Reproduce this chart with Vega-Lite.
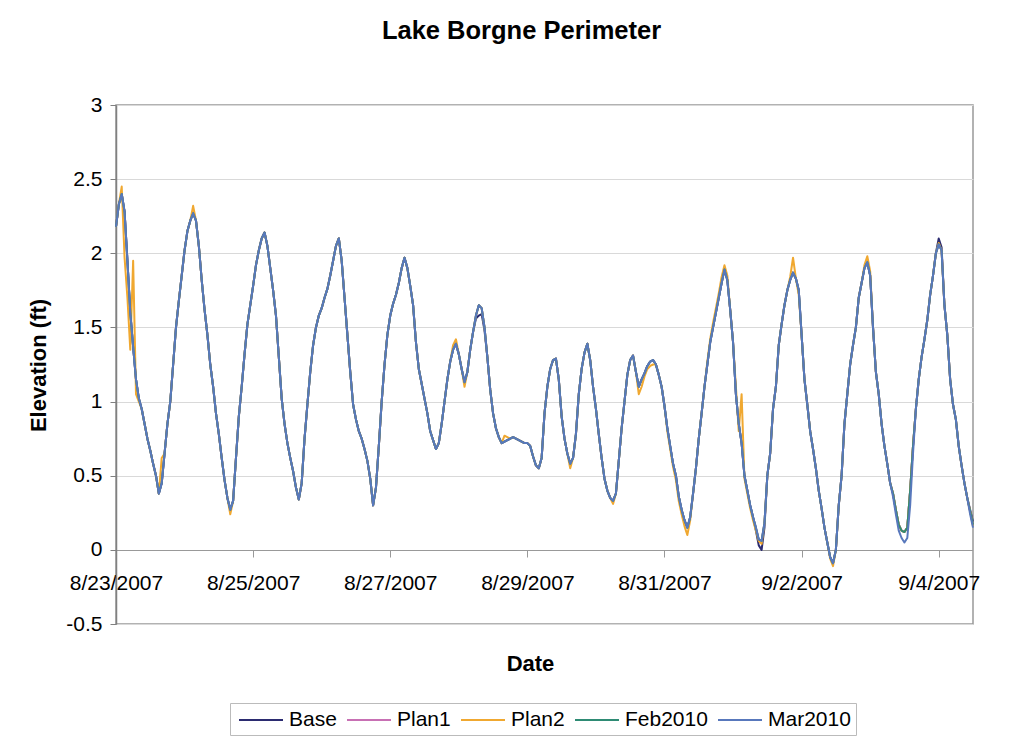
{
"$schema":"https://vega.github.io/schema/vega-lite/v6.json",
"width":857,"height":519,
"autosize":{"type":"none"},
"padding":{"left":116,"top":105,"right":58,"bottom":120},
"background":"white",
"title":{"text":"Lake Borgne Perimeter","font":"Liberation Sans","fontSize":25.5,"fontWeight":"bold","color":"black","anchor":"middle","frame":"group","dx":-23,"offset":50},
"data":{"values":[
{"t":"2007-08-23T00:00","Base":2.18,"Plan1":2.18,"Plan2":2.18,"Feb2010":2.18,"Mar2010":2.18},
{"t":"2007-08-23T01:00","Base":2.33,"Plan1":2.33,"Plan2":2.33,"Feb2010":2.33,"Mar2010":2.33},
{"t":"2007-08-23T02:00","Base":2.40,"Plan1":2.40,"Plan2":2.45,"Feb2010":2.40,"Mar2010":2.40},
{"t":"2007-08-23T03:00","Base":2.28,"Plan1":2.28,"Plan2":1.97,"Feb2010":2.28,"Mar2010":2.28},
{"t":"2007-08-23T04:00","Base":1.95,"Plan1":1.95,"Plan2":1.70,"Feb2010":1.95,"Mar2010":1.95},
{"t":"2007-08-23T05:00","Base":1.60,"Plan1":1.60,"Plan2":1.35,"Feb2010":1.60,"Mar2010":1.60},
{"t":"2007-08-23T06:00","Base":1.37,"Plan1":1.37,"Plan2":1.95,"Feb2010":1.37,"Mar2010":1.37},
{"t":"2007-08-23T07:00","Base":1.15,"Plan1":1.15,"Plan2":1.05,"Feb2010":1.15,"Mar2010":1.15},
{"t":"2007-08-23T08:00","Base":1.02,"Plan1":1.02,"Plan2":1.00,"Feb2010":1.02,"Mar2010":1.02},
{"t":"2007-08-23T09:00","Base":0.95,"Plan1":0.95,"Plan2":0.95,"Feb2010":0.95,"Mar2010":0.95},
{"t":"2007-08-23T10:00","Base":0.85,"Plan1":0.85,"Plan2":0.85,"Feb2010":0.85,"Mar2010":0.85},
{"t":"2007-08-23T11:00","Base":0.75,"Plan1":0.75,"Plan2":0.75,"Feb2010":0.75,"Mar2010":0.75},
{"t":"2007-08-23T12:00","Base":0.67,"Plan1":0.67,"Plan2":0.67,"Feb2010":0.67,"Mar2010":0.67},
{"t":"2007-08-23T13:00","Base":0.58,"Plan1":0.58,"Plan2":0.58,"Feb2010":0.58,"Mar2010":0.58},
{"t":"2007-08-23T14:00","Base":0.50,"Plan1":0.50,"Plan2":0.50,"Feb2010":0.50,"Mar2010":0.50},
{"t":"2007-08-23T15:00","Base":0.38,"Plan1":0.38,"Plan2":0.38,"Feb2010":0.38,"Mar2010":0.38},
{"t":"2007-08-23T16:00","Base":0.45,"Plan1":0.45,"Plan2":0.62,"Feb2010":0.45,"Mar2010":0.45},
{"t":"2007-08-23T17:00","Base":0.65,"Plan1":0.65,"Plan2":0.65,"Feb2010":0.65,"Mar2010":0.65},
{"t":"2007-08-23T18:00","Base":0.85,"Plan1":0.85,"Plan2":0.85,"Feb2010":0.85,"Mar2010":0.85},
{"t":"2007-08-23T19:00","Base":1.00,"Plan1":1.00,"Plan2":1.00,"Feb2010":1.00,"Mar2010":1.00},
{"t":"2007-08-23T20:00","Base":1.25,"Plan1":1.25,"Plan2":1.25,"Feb2010":1.25,"Mar2010":1.25},
{"t":"2007-08-23T21:00","Base":1.50,"Plan1":1.50,"Plan2":1.50,"Feb2010":1.50,"Mar2010":1.50},
{"t":"2007-08-23T22:00","Base":1.68,"Plan1":1.68,"Plan2":1.68,"Feb2010":1.68,"Mar2010":1.68},
{"t":"2007-08-23T23:00","Base":1.85,"Plan1":1.85,"Plan2":1.85,"Feb2010":1.85,"Mar2010":1.85},
{"t":"2007-08-24T00:00","Base":2.02,"Plan1":2.02,"Plan2":2.02,"Feb2010":2.02,"Mar2010":2.02},
{"t":"2007-08-24T01:00","Base":2.15,"Plan1":2.15,"Plan2":2.15,"Feb2010":2.15,"Mar2010":2.15},
{"t":"2007-08-24T02:00","Base":2.22,"Plan1":2.22,"Plan2":2.22,"Feb2010":2.22,"Mar2010":2.22},
{"t":"2007-08-24T03:00","Base":2.27,"Plan1":2.27,"Plan2":2.32,"Feb2010":2.27,"Mar2010":2.27},
{"t":"2007-08-24T04:00","Base":2.22,"Plan1":2.22,"Plan2":2.22,"Feb2010":2.22,"Mar2010":2.22},
{"t":"2007-08-24T05:00","Base":2.05,"Plan1":2.05,"Plan2":2.05,"Feb2010":2.05,"Mar2010":2.05},
{"t":"2007-08-24T06:00","Base":1.82,"Plan1":1.82,"Plan2":1.82,"Feb2010":1.82,"Mar2010":1.82},
{"t":"2007-08-24T07:00","Base":1.62,"Plan1":1.62,"Plan2":1.62,"Feb2010":1.62,"Mar2010":1.62},
{"t":"2007-08-24T08:00","Base":1.45,"Plan1":1.45,"Plan2":1.45,"Feb2010":1.45,"Mar2010":1.45},
{"t":"2007-08-24T09:00","Base":1.25,"Plan1":1.25,"Plan2":1.25,"Feb2010":1.25,"Mar2010":1.25},
{"t":"2007-08-24T10:00","Base":1.10,"Plan1":1.10,"Plan2":1.10,"Feb2010":1.10,"Mar2010":1.10},
{"t":"2007-08-24T11:00","Base":0.92,"Plan1":0.92,"Plan2":0.92,"Feb2010":0.92,"Mar2010":0.92},
{"t":"2007-08-24T12:00","Base":0.78,"Plan1":0.78,"Plan2":0.78,"Feb2010":0.78,"Mar2010":0.78},
{"t":"2007-08-24T13:00","Base":0.62,"Plan1":0.62,"Plan2":0.62,"Feb2010":0.62,"Mar2010":0.62},
{"t":"2007-08-24T14:00","Base":0.47,"Plan1":0.47,"Plan2":0.47,"Feb2010":0.47,"Mar2010":0.47},
{"t":"2007-08-24T15:00","Base":0.35,"Plan1":0.35,"Plan2":0.35,"Feb2010":0.35,"Mar2010":0.35},
{"t":"2007-08-24T16:00","Base":0.27,"Plan1":0.27,"Plan2":0.24,"Feb2010":0.27,"Mar2010":0.27},
{"t":"2007-08-24T17:00","Base":0.33,"Plan1":0.33,"Plan2":0.33,"Feb2010":0.33,"Mar2010":0.33},
{"t":"2007-08-24T18:00","Base":0.62,"Plan1":0.62,"Plan2":0.62,"Feb2010":0.62,"Mar2010":0.62},
{"t":"2007-08-24T19:00","Base":0.90,"Plan1":0.90,"Plan2":0.90,"Feb2010":0.90,"Mar2010":0.90},
{"t":"2007-08-24T20:00","Base":1.10,"Plan1":1.10,"Plan2":1.10,"Feb2010":1.10,"Mar2010":1.10},
{"t":"2007-08-24T21:00","Base":1.32,"Plan1":1.32,"Plan2":1.32,"Feb2010":1.32,"Mar2010":1.32},
{"t":"2007-08-24T22:00","Base":1.52,"Plan1":1.52,"Plan2":1.52,"Feb2010":1.52,"Mar2010":1.52},
{"t":"2007-08-24T23:00","Base":1.65,"Plan1":1.65,"Plan2":1.65,"Feb2010":1.65,"Mar2010":1.65},
{"t":"2007-08-25T00:00","Base":1.78,"Plan1":1.78,"Plan2":1.78,"Feb2010":1.78,"Mar2010":1.78},
{"t":"2007-08-25T01:00","Base":1.92,"Plan1":1.92,"Plan2":1.92,"Feb2010":1.92,"Mar2010":1.92},
{"t":"2007-08-25T02:00","Base":2.02,"Plan1":2.02,"Plan2":2.02,"Feb2010":2.02,"Mar2010":2.02},
{"t":"2007-08-25T03:00","Base":2.10,"Plan1":2.10,"Plan2":2.10,"Feb2010":2.10,"Mar2010":2.10},
{"t":"2007-08-25T04:00","Base":2.14,"Plan1":2.14,"Plan2":2.14,"Feb2010":2.14,"Mar2010":2.14},
{"t":"2007-08-25T05:00","Base":2.05,"Plan1":2.05,"Plan2":2.05,"Feb2010":2.05,"Mar2010":2.05},
{"t":"2007-08-25T06:00","Base":1.90,"Plan1":1.90,"Plan2":1.90,"Feb2010":1.90,"Mar2010":1.90},
{"t":"2007-08-25T07:00","Base":1.75,"Plan1":1.75,"Plan2":1.75,"Feb2010":1.75,"Mar2010":1.75},
{"t":"2007-08-25T08:00","Base":1.58,"Plan1":1.58,"Plan2":1.58,"Feb2010":1.58,"Mar2010":1.58},
{"t":"2007-08-25T09:00","Base":1.30,"Plan1":1.30,"Plan2":1.30,"Feb2010":1.30,"Mar2010":1.30},
{"t":"2007-08-25T10:00","Base":1.02,"Plan1":1.02,"Plan2":1.02,"Feb2010":1.02,"Mar2010":1.02},
{"t":"2007-08-25T11:00","Base":0.85,"Plan1":0.85,"Plan2":0.85,"Feb2010":0.85,"Mar2010":0.85},
{"t":"2007-08-25T12:00","Base":0.72,"Plan1":0.72,"Plan2":0.72,"Feb2010":0.72,"Mar2010":0.72},
{"t":"2007-08-25T13:00","Base":0.62,"Plan1":0.62,"Plan2":0.62,"Feb2010":0.62,"Mar2010":0.62},
{"t":"2007-08-25T14:00","Base":0.53,"Plan1":0.53,"Plan2":0.53,"Feb2010":0.53,"Mar2010":0.53},
{"t":"2007-08-25T15:00","Base":0.42,"Plan1":0.42,"Plan2":0.42,"Feb2010":0.42,"Mar2010":0.42},
{"t":"2007-08-25T16:00","Base":0.34,"Plan1":0.34,"Plan2":0.34,"Feb2010":0.34,"Mar2010":0.34},
{"t":"2007-08-25T17:00","Base":0.45,"Plan1":0.45,"Plan2":0.45,"Feb2010":0.45,"Mar2010":0.45},
{"t":"2007-08-25T18:00","Base":0.75,"Plan1":0.75,"Plan2":0.75,"Feb2010":0.75,"Mar2010":0.75},
{"t":"2007-08-25T19:00","Base":0.98,"Plan1":0.98,"Plan2":0.98,"Feb2010":0.98,"Mar2010":0.98},
{"t":"2007-08-25T20:00","Base":1.20,"Plan1":1.20,"Plan2":1.20,"Feb2010":1.20,"Mar2010":1.20},
{"t":"2007-08-25T21:00","Base":1.38,"Plan1":1.38,"Plan2":1.38,"Feb2010":1.38,"Mar2010":1.38},
{"t":"2007-08-25T22:00","Base":1.50,"Plan1":1.50,"Plan2":1.50,"Feb2010":1.50,"Mar2010":1.50},
{"t":"2007-08-25T23:00","Base":1.58,"Plan1":1.58,"Plan2":1.58,"Feb2010":1.58,"Mar2010":1.58},
{"t":"2007-08-26T00:00","Base":1.63,"Plan1":1.63,"Plan2":1.63,"Feb2010":1.63,"Mar2010":1.63},
{"t":"2007-08-26T01:00","Base":1.70,"Plan1":1.70,"Plan2":1.70,"Feb2010":1.70,"Mar2010":1.70},
{"t":"2007-08-26T02:00","Base":1.76,"Plan1":1.76,"Plan2":1.76,"Feb2010":1.76,"Mar2010":1.76},
{"t":"2007-08-26T03:00","Base":1.85,"Plan1":1.85,"Plan2":1.85,"Feb2010":1.85,"Mar2010":1.85},
{"t":"2007-08-26T04:00","Base":1.95,"Plan1":1.95,"Plan2":1.95,"Feb2010":1.95,"Mar2010":1.95},
{"t":"2007-08-26T05:00","Base":2.05,"Plan1":2.05,"Plan2":2.05,"Feb2010":2.05,"Mar2010":2.05},
{"t":"2007-08-26T06:00","Base":2.10,"Plan1":2.10,"Plan2":2.10,"Feb2010":2.10,"Mar2010":2.10},
{"t":"2007-08-26T07:00","Base":1.95,"Plan1":1.95,"Plan2":1.95,"Feb2010":1.95,"Mar2010":1.95},
{"t":"2007-08-26T08:00","Base":1.70,"Plan1":1.70,"Plan2":1.70,"Feb2010":1.70,"Mar2010":1.70},
{"t":"2007-08-26T09:00","Base":1.45,"Plan1":1.45,"Plan2":1.45,"Feb2010":1.45,"Mar2010":1.45},
{"t":"2007-08-26T10:00","Base":1.20,"Plan1":1.20,"Plan2":1.20,"Feb2010":1.20,"Mar2010":1.20},
{"t":"2007-08-26T11:00","Base":0.98,"Plan1":0.98,"Plan2":0.98,"Feb2010":0.98,"Mar2010":0.98},
{"t":"2007-08-26T12:00","Base":0.88,"Plan1":0.88,"Plan2":0.88,"Feb2010":0.88,"Mar2010":0.88},
{"t":"2007-08-26T13:00","Base":0.80,"Plan1":0.80,"Plan2":0.80,"Feb2010":0.80,"Mar2010":0.80},
{"t":"2007-08-26T14:00","Base":0.75,"Plan1":0.75,"Plan2":0.75,"Feb2010":0.75,"Mar2010":0.75},
{"t":"2007-08-26T15:00","Base":0.68,"Plan1":0.68,"Plan2":0.68,"Feb2010":0.68,"Mar2010":0.68},
{"t":"2007-08-26T16:00","Base":0.60,"Plan1":0.60,"Plan2":0.60,"Feb2010":0.60,"Mar2010":0.60},
{"t":"2007-08-26T17:00","Base":0.48,"Plan1":0.48,"Plan2":0.48,"Feb2010":0.48,"Mar2010":0.48},
{"t":"2007-08-26T18:00","Base":0.30,"Plan1":0.30,"Plan2":0.30,"Feb2010":0.30,"Mar2010":0.30},
{"t":"2007-08-26T19:00","Base":0.42,"Plan1":0.42,"Plan2":0.42,"Feb2010":0.42,"Mar2010":0.42},
{"t":"2007-08-26T20:00","Base":0.70,"Plan1":0.70,"Plan2":0.70,"Feb2010":0.70,"Mar2010":0.70},
{"t":"2007-08-26T21:00","Base":1.00,"Plan1":1.00,"Plan2":1.00,"Feb2010":1.00,"Mar2010":1.00},
{"t":"2007-08-26T22:00","Base":1.25,"Plan1":1.25,"Plan2":1.25,"Feb2010":1.25,"Mar2010":1.25},
{"t":"2007-08-26T23:00","Base":1.45,"Plan1":1.45,"Plan2":1.45,"Feb2010":1.45,"Mar2010":1.45},
{"t":"2007-08-27T00:00","Base":1.58,"Plan1":1.58,"Plan2":1.58,"Feb2010":1.58,"Mar2010":1.58},
{"t":"2007-08-27T01:00","Base":1.66,"Plan1":1.66,"Plan2":1.66,"Feb2010":1.66,"Mar2010":1.66},
{"t":"2007-08-27T02:00","Base":1.72,"Plan1":1.72,"Plan2":1.72,"Feb2010":1.72,"Mar2010":1.72},
{"t":"2007-08-27T03:00","Base":1.80,"Plan1":1.80,"Plan2":1.80,"Feb2010":1.80,"Mar2010":1.80},
{"t":"2007-08-27T04:00","Base":1.90,"Plan1":1.90,"Plan2":1.90,"Feb2010":1.90,"Mar2010":1.90},
{"t":"2007-08-27T05:00","Base":1.97,"Plan1":1.97,"Plan2":1.97,"Feb2010":1.97,"Mar2010":1.97},
{"t":"2007-08-27T06:00","Base":1.90,"Plan1":1.90,"Plan2":1.90,"Feb2010":1.90,"Mar2010":1.90},
{"t":"2007-08-27T07:00","Base":1.78,"Plan1":1.78,"Plan2":1.78,"Feb2010":1.78,"Mar2010":1.78},
{"t":"2007-08-27T08:00","Base":1.65,"Plan1":1.65,"Plan2":1.65,"Feb2010":1.65,"Mar2010":1.65},
{"t":"2007-08-27T09:00","Base":1.40,"Plan1":1.40,"Plan2":1.40,"Feb2010":1.40,"Mar2010":1.40},
{"t":"2007-08-27T10:00","Base":1.22,"Plan1":1.22,"Plan2":1.22,"Feb2010":1.22,"Mar2010":1.22},
{"t":"2007-08-27T11:00","Base":1.12,"Plan1":1.12,"Plan2":1.12,"Feb2010":1.12,"Mar2010":1.12},
{"t":"2007-08-27T12:00","Base":1.02,"Plan1":1.02,"Plan2":1.02,"Feb2010":1.02,"Mar2010":1.02},
{"t":"2007-08-27T13:00","Base":0.92,"Plan1":0.92,"Plan2":0.92,"Feb2010":0.92,"Mar2010":0.92},
{"t":"2007-08-27T14:00","Base":0.80,"Plan1":0.80,"Plan2":0.80,"Feb2010":0.80,"Mar2010":0.80},
{"t":"2007-08-27T15:00","Base":0.74,"Plan1":0.74,"Plan2":0.74,"Feb2010":0.74,"Mar2010":0.74},
{"t":"2007-08-27T16:00","Base":0.68,"Plan1":0.68,"Plan2":0.68,"Feb2010":0.68,"Mar2010":0.68},
{"t":"2007-08-27T17:00","Base":0.72,"Plan1":0.72,"Plan2":0.72,"Feb2010":0.72,"Mar2010":0.72},
{"t":"2007-08-27T18:00","Base":0.85,"Plan1":0.85,"Plan2":0.85,"Feb2010":0.85,"Mar2010":0.85},
{"t":"2007-08-27T19:00","Base":1.00,"Plan1":1.00,"Plan2":1.00,"Feb2010":1.00,"Mar2010":1.00},
{"t":"2007-08-27T20:00","Base":1.15,"Plan1":1.15,"Plan2":1.15,"Feb2010":1.15,"Mar2010":1.15},
{"t":"2007-08-27T21:00","Base":1.27,"Plan1":1.27,"Plan2":1.27,"Feb2010":1.27,"Mar2010":1.27},
{"t":"2007-08-27T22:00","Base":1.35,"Plan1":1.35,"Plan2":1.38,"Feb2010":1.35,"Mar2010":1.35},
{"t":"2007-08-27T23:00","Base":1.39,"Plan1":1.39,"Plan2":1.42,"Feb2010":1.39,"Mar2010":1.39},
{"t":"2007-08-28T00:00","Base":1.32,"Plan1":1.32,"Plan2":1.32,"Feb2010":1.32,"Mar2010":1.32},
{"t":"2007-08-28T01:00","Base":1.22,"Plan1":1.22,"Plan2":1.22,"Feb2010":1.22,"Mar2010":1.22},
{"t":"2007-08-28T02:00","Base":1.13,"Plan1":1.13,"Plan2":1.10,"Feb2010":1.13,"Mar2010":1.13},
{"t":"2007-08-28T03:00","Base":1.20,"Plan1":1.20,"Plan2":1.20,"Feb2010":1.20,"Mar2010":1.20},
{"t":"2007-08-28T04:00","Base":1.35,"Plan1":1.35,"Plan2":1.35,"Feb2010":1.35,"Mar2010":1.35},
{"t":"2007-08-28T05:00","Base":1.47,"Plan1":1.47,"Plan2":1.47,"Feb2010":1.47,"Mar2010":1.47},
{"t":"2007-08-28T06:00","Base":1.56,"Plan1":1.58,"Plan2":1.58,"Feb2010":1.58,"Mar2010":1.58},
{"t":"2007-08-28T07:00","Base":1.58,"Plan1":1.65,"Plan2":1.65,"Feb2010":1.65,"Mar2010":1.65},
{"t":"2007-08-28T08:00","Base":1.59,"Plan1":1.63,"Plan2":1.63,"Feb2010":1.63,"Mar2010":1.63},
{"t":"2007-08-28T09:00","Base":1.48,"Plan1":1.50,"Plan2":1.50,"Feb2010":1.50,"Mar2010":1.50},
{"t":"2007-08-28T10:00","Base":1.30,"Plan1":1.30,"Plan2":1.30,"Feb2010":1.30,"Mar2010":1.30},
{"t":"2007-08-28T11:00","Base":1.08,"Plan1":1.08,"Plan2":1.08,"Feb2010":1.08,"Mar2010":1.08},
{"t":"2007-08-28T12:00","Base":0.92,"Plan1":0.92,"Plan2":0.92,"Feb2010":0.92,"Mar2010":0.92},
{"t":"2007-08-28T13:00","Base":0.82,"Plan1":0.82,"Plan2":0.82,"Feb2010":0.82,"Mar2010":0.82},
{"t":"2007-08-28T14:00","Base":0.76,"Plan1":0.76,"Plan2":0.76,"Feb2010":0.76,"Mar2010":0.76},
{"t":"2007-08-28T15:00","Base":0.72,"Plan1":0.72,"Plan2":0.72,"Feb2010":0.72,"Mar2010":0.72},
{"t":"2007-08-28T16:00","Base":0.73,"Plan1":0.73,"Plan2":0.77,"Feb2010":0.73,"Mar2010":0.73},
{"t":"2007-08-28T17:00","Base":0.74,"Plan1":0.74,"Plan2":0.76,"Feb2010":0.74,"Mar2010":0.74},
{"t":"2007-08-28T18:00","Base":0.75,"Plan1":0.75,"Plan2":0.75,"Feb2010":0.75,"Mar2010":0.75},
{"t":"2007-08-28T19:00","Base":0.76,"Plan1":0.76,"Plan2":0.76,"Feb2010":0.76,"Mar2010":0.76},
{"t":"2007-08-28T20:00","Base":0.75,"Plan1":0.75,"Plan2":0.75,"Feb2010":0.75,"Mar2010":0.75},
{"t":"2007-08-28T21:00","Base":0.74,"Plan1":0.74,"Plan2":0.74,"Feb2010":0.74,"Mar2010":0.74},
{"t":"2007-08-28T22:00","Base":0.73,"Plan1":0.73,"Plan2":0.73,"Feb2010":0.73,"Mar2010":0.73},
{"t":"2007-08-28T23:00","Base":0.72,"Plan1":0.72,"Plan2":0.72,"Feb2010":0.72,"Mar2010":0.72},
{"t":"2007-08-29T00:00","Base":0.72,"Plan1":0.72,"Plan2":0.72,"Feb2010":0.72,"Mar2010":0.72},
{"t":"2007-08-29T01:00","Base":0.70,"Plan1":0.70,"Plan2":0.70,"Feb2010":0.70,"Mar2010":0.70},
{"t":"2007-08-29T02:00","Base":0.63,"Plan1":0.63,"Plan2":0.63,"Feb2010":0.63,"Mar2010":0.63},
{"t":"2007-08-29T03:00","Base":0.57,"Plan1":0.57,"Plan2":0.57,"Feb2010":0.57,"Mar2010":0.57},
{"t":"2007-08-29T04:00","Base":0.55,"Plan1":0.55,"Plan2":0.55,"Feb2010":0.55,"Mar2010":0.55},
{"t":"2007-08-29T05:00","Base":0.62,"Plan1":0.62,"Plan2":0.62,"Feb2010":0.62,"Mar2010":0.62},
{"t":"2007-08-29T06:00","Base":0.92,"Plan1":0.92,"Plan2":0.92,"Feb2010":0.92,"Mar2010":0.92},
{"t":"2007-08-29T07:00","Base":1.10,"Plan1":1.10,"Plan2":1.10,"Feb2010":1.10,"Mar2010":1.10},
{"t":"2007-08-29T08:00","Base":1.22,"Plan1":1.22,"Plan2":1.22,"Feb2010":1.22,"Mar2010":1.22},
{"t":"2007-08-29T09:00","Base":1.28,"Plan1":1.28,"Plan2":1.28,"Feb2010":1.28,"Mar2010":1.28},
{"t":"2007-08-29T10:00","Base":1.29,"Plan1":1.29,"Plan2":1.29,"Feb2010":1.29,"Mar2010":1.29},
{"t":"2007-08-29T11:00","Base":1.15,"Plan1":1.15,"Plan2":1.15,"Feb2010":1.15,"Mar2010":1.15},
{"t":"2007-08-29T12:00","Base":0.90,"Plan1":0.90,"Plan2":0.90,"Feb2010":0.90,"Mar2010":0.90},
{"t":"2007-08-29T13:00","Base":0.75,"Plan1":0.75,"Plan2":0.75,"Feb2010":0.75,"Mar2010":0.75},
{"t":"2007-08-29T14:00","Base":0.65,"Plan1":0.65,"Plan2":0.65,"Feb2010":0.65,"Mar2010":0.65},
{"t":"2007-08-29T15:00","Base":0.58,"Plan1":0.58,"Plan2":0.55,"Feb2010":0.58,"Mar2010":0.58},
{"t":"2007-08-29T16:00","Base":0.62,"Plan1":0.62,"Plan2":0.62,"Feb2010":0.62,"Mar2010":0.62},
{"t":"2007-08-29T17:00","Base":0.78,"Plan1":0.78,"Plan2":0.78,"Feb2010":0.78,"Mar2010":0.78},
{"t":"2007-08-29T18:00","Base":1.05,"Plan1":1.05,"Plan2":1.05,"Feb2010":1.05,"Mar2010":1.05},
{"t":"2007-08-29T19:00","Base":1.22,"Plan1":1.22,"Plan2":1.22,"Feb2010":1.22,"Mar2010":1.22},
{"t":"2007-08-29T20:00","Base":1.33,"Plan1":1.33,"Plan2":1.33,"Feb2010":1.33,"Mar2010":1.33},
{"t":"2007-08-29T21:00","Base":1.39,"Plan1":1.39,"Plan2":1.39,"Feb2010":1.39,"Mar2010":1.39},
{"t":"2007-08-29T22:00","Base":1.28,"Plan1":1.28,"Plan2":1.28,"Feb2010":1.28,"Mar2010":1.28},
{"t":"2007-08-29T23:00","Base":1.10,"Plan1":1.10,"Plan2":1.10,"Feb2010":1.10,"Mar2010":1.10},
{"t":"2007-08-30T00:00","Base":0.95,"Plan1":0.95,"Plan2":0.95,"Feb2010":0.95,"Mar2010":0.95},
{"t":"2007-08-30T01:00","Base":0.78,"Plan1":0.78,"Plan2":0.78,"Feb2010":0.78,"Mar2010":0.78},
{"t":"2007-08-30T02:00","Base":0.62,"Plan1":0.62,"Plan2":0.62,"Feb2010":0.62,"Mar2010":0.62},
{"t":"2007-08-30T03:00","Base":0.48,"Plan1":0.48,"Plan2":0.48,"Feb2010":0.48,"Mar2010":0.48},
{"t":"2007-08-30T04:00","Base":0.40,"Plan1":0.40,"Plan2":0.40,"Feb2010":0.40,"Mar2010":0.40},
{"t":"2007-08-30T05:00","Base":0.35,"Plan1":0.35,"Plan2":0.35,"Feb2010":0.35,"Mar2010":0.35},
{"t":"2007-08-30T06:00","Base":0.33,"Plan1":0.33,"Plan2":0.31,"Feb2010":0.33,"Mar2010":0.33},
{"t":"2007-08-30T07:00","Base":0.38,"Plan1":0.38,"Plan2":0.38,"Feb2010":0.38,"Mar2010":0.38},
{"t":"2007-08-30T08:00","Base":0.60,"Plan1":0.60,"Plan2":0.60,"Feb2010":0.60,"Mar2010":0.60},
{"t":"2007-08-30T09:00","Base":0.82,"Plan1":0.82,"Plan2":0.82,"Feb2010":0.82,"Mar2010":0.82},
{"t":"2007-08-30T10:00","Base":1.00,"Plan1":1.00,"Plan2":1.00,"Feb2010":1.00,"Mar2010":1.00},
{"t":"2007-08-30T11:00","Base":1.18,"Plan1":1.18,"Plan2":1.18,"Feb2010":1.18,"Mar2010":1.18},
{"t":"2007-08-30T12:00","Base":1.28,"Plan1":1.28,"Plan2":1.28,"Feb2010":1.28,"Mar2010":1.28},
{"t":"2007-08-30T13:00","Base":1.31,"Plan1":1.31,"Plan2":1.31,"Feb2010":1.31,"Mar2010":1.31},
{"t":"2007-08-30T14:00","Base":1.20,"Plan1":1.20,"Plan2":1.20,"Feb2010":1.20,"Mar2010":1.20},
{"t":"2007-08-30T15:00","Base":1.10,"Plan1":1.10,"Plan2":1.05,"Feb2010":1.10,"Mar2010":1.10},
{"t":"2007-08-30T16:00","Base":1.15,"Plan1":1.15,"Plan2":1.10,"Feb2010":1.15,"Mar2010":1.15},
{"t":"2007-08-30T17:00","Base":1.19,"Plan1":1.19,"Plan2":1.17,"Feb2010":1.19,"Mar2010":1.19},
{"t":"2007-08-30T18:00","Base":1.24,"Plan1":1.24,"Plan2":1.22,"Feb2010":1.24,"Mar2010":1.24},
{"t":"2007-08-30T19:00","Base":1.27,"Plan1":1.27,"Plan2":1.24,"Feb2010":1.27,"Mar2010":1.27},
{"t":"2007-08-30T20:00","Base":1.28,"Plan1":1.28,"Plan2":1.25,"Feb2010":1.28,"Mar2010":1.28},
{"t":"2007-08-30T21:00","Base":1.25,"Plan1":1.25,"Plan2":1.25,"Feb2010":1.25,"Mar2010":1.25},
{"t":"2007-08-30T22:00","Base":1.18,"Plan1":1.18,"Plan2":1.18,"Feb2010":1.18,"Mar2010":1.18},
{"t":"2007-08-30T23:00","Base":1.10,"Plan1":1.10,"Plan2":1.10,"Feb2010":1.10,"Mar2010":1.10},
{"t":"2007-08-31T00:00","Base":0.97,"Plan1":0.97,"Plan2":0.97,"Feb2010":0.97,"Mar2010":0.97},
{"t":"2007-08-31T01:00","Base":0.82,"Plan1":0.82,"Plan2":0.80,"Feb2010":0.82,"Mar2010":0.82},
{"t":"2007-08-31T02:00","Base":0.70,"Plan1":0.70,"Plan2":0.68,"Feb2010":0.70,"Mar2010":0.70},
{"t":"2007-08-31T03:00","Base":0.58,"Plan1":0.58,"Plan2":0.56,"Feb2010":0.58,"Mar2010":0.58},
{"t":"2007-08-31T04:00","Base":0.50,"Plan1":0.50,"Plan2":0.47,"Feb2010":0.50,"Mar2010":0.50},
{"t":"2007-08-31T05:00","Base":0.36,"Plan1":0.36,"Plan2":0.33,"Feb2010":0.36,"Mar2010":0.36},
{"t":"2007-08-31T06:00","Base":0.27,"Plan1":0.27,"Plan2":0.24,"Feb2010":0.27,"Mar2010":0.27},
{"t":"2007-08-31T07:00","Base":0.20,"Plan1":0.20,"Plan2":0.16,"Feb2010":0.20,"Mar2010":0.20},
{"t":"2007-08-31T08:00","Base":0.15,"Plan1":0.15,"Plan2":0.10,"Feb2010":0.15,"Mar2010":0.15},
{"t":"2007-08-31T09:00","Base":0.22,"Plan1":0.22,"Plan2":0.20,"Feb2010":0.22,"Mar2010":0.22},
{"t":"2007-08-31T10:00","Base":0.38,"Plan1":0.38,"Plan2":0.38,"Feb2010":0.38,"Mar2010":0.38},
{"t":"2007-08-31T11:00","Base":0.55,"Plan1":0.55,"Plan2":0.55,"Feb2010":0.55,"Mar2010":0.55},
{"t":"2007-08-31T12:00","Base":0.75,"Plan1":0.75,"Plan2":0.75,"Feb2010":0.75,"Mar2010":0.75},
{"t":"2007-08-31T13:00","Base":0.92,"Plan1":0.92,"Plan2":0.92,"Feb2010":0.92,"Mar2010":0.92},
{"t":"2007-08-31T14:00","Base":1.10,"Plan1":1.10,"Plan2":1.10,"Feb2010":1.10,"Mar2010":1.10},
{"t":"2007-08-31T15:00","Base":1.25,"Plan1":1.25,"Plan2":1.27,"Feb2010":1.25,"Mar2010":1.25},
{"t":"2007-08-31T16:00","Base":1.40,"Plan1":1.40,"Plan2":1.42,"Feb2010":1.40,"Mar2010":1.40},
{"t":"2007-08-31T17:00","Base":1.50,"Plan1":1.50,"Plan2":1.53,"Feb2010":1.50,"Mar2010":1.50},
{"t":"2007-08-31T18:00","Base":1.60,"Plan1":1.60,"Plan2":1.63,"Feb2010":1.60,"Mar2010":1.60},
{"t":"2007-08-31T19:00","Base":1.70,"Plan1":1.70,"Plan2":1.73,"Feb2010":1.70,"Mar2010":1.70},
{"t":"2007-08-31T20:00","Base":1.80,"Plan1":1.80,"Plan2":1.84,"Feb2010":1.80,"Mar2010":1.80},
{"t":"2007-08-31T21:00","Base":1.89,"Plan1":1.89,"Plan2":1.92,"Feb2010":1.89,"Mar2010":1.89},
{"t":"2007-08-31T22:00","Base":1.82,"Plan1":1.82,"Plan2":1.85,"Feb2010":1.82,"Mar2010":1.82},
{"t":"2007-08-31T23:00","Base":1.62,"Plan1":1.62,"Plan2":1.62,"Feb2010":1.62,"Mar2010":1.62},
{"t":"2007-09-01T00:00","Base":1.40,"Plan1":1.40,"Plan2":1.40,"Feb2010":1.40,"Mar2010":1.40},
{"t":"2007-09-01T01:00","Base":1.05,"Plan1":1.05,"Plan2":1.10,"Feb2010":1.05,"Mar2010":1.05},
{"t":"2007-09-01T02:00","Base":0.85,"Plan1":0.85,"Plan2":0.80,"Feb2010":0.85,"Mar2010":0.85},
{"t":"2007-09-01T03:00","Base":0.72,"Plan1":0.72,"Plan2":1.05,"Feb2010":0.72,"Mar2010":0.72},
{"t":"2007-09-01T04:00","Base":0.50,"Plan1":0.50,"Plan2":0.48,"Feb2010":0.50,"Mar2010":0.50},
{"t":"2007-09-01T05:00","Base":0.40,"Plan1":0.40,"Plan2":0.38,"Feb2010":0.40,"Mar2010":0.40},
{"t":"2007-09-01T06:00","Base":0.30,"Plan1":0.30,"Plan2":0.28,"Feb2010":0.30,"Mar2010":0.30},
{"t":"2007-09-01T07:00","Base":0.22,"Plan1":0.22,"Plan2":0.20,"Feb2010":0.22,"Mar2010":0.22},
{"t":"2007-09-01T08:00","Base":0.13,"Plan1":0.15,"Plan2":0.13,"Feb2010":0.15,"Mar2010":0.15},
{"t":"2007-09-01T09:00","Base":0.03,"Plan1":0.07,"Plan2":0.06,"Feb2010":0.07,"Mar2010":0.07},
{"t":"2007-09-01T10:00","Base":0.00,"Plan1":0.06,"Plan2":0.04,"Feb2010":0.06,"Mar2010":0.06},
{"t":"2007-09-01T11:00","Base":0.15,"Plan1":0.18,"Plan2":0.18,"Feb2010":0.18,"Mar2010":0.18},
{"t":"2007-09-01T12:00","Base":0.50,"Plan1":0.50,"Plan2":0.50,"Feb2010":0.50,"Mar2010":0.50},
{"t":"2007-09-01T13:00","Base":0.65,"Plan1":0.65,"Plan2":0.65,"Feb2010":0.65,"Mar2010":0.65},
{"t":"2007-09-01T14:00","Base":0.95,"Plan1":0.95,"Plan2":0.95,"Feb2010":0.95,"Mar2010":0.95},
{"t":"2007-09-01T15:00","Base":1.10,"Plan1":1.10,"Plan2":1.10,"Feb2010":1.10,"Mar2010":1.10},
{"t":"2007-09-01T16:00","Base":1.38,"Plan1":1.38,"Plan2":1.38,"Feb2010":1.38,"Mar2010":1.38},
{"t":"2007-09-01T17:00","Base":1.52,"Plan1":1.52,"Plan2":1.52,"Feb2010":1.52,"Mar2010":1.52},
{"t":"2007-09-01T18:00","Base":1.65,"Plan1":1.65,"Plan2":1.65,"Feb2010":1.65,"Mar2010":1.65},
{"t":"2007-09-01T19:00","Base":1.75,"Plan1":1.75,"Plan2":1.75,"Feb2010":1.75,"Mar2010":1.75},
{"t":"2007-09-01T20:00","Base":1.82,"Plan1":1.82,"Plan2":1.84,"Feb2010":1.82,"Mar2010":1.82},
{"t":"2007-09-01T21:00","Base":1.87,"Plan1":1.87,"Plan2":1.97,"Feb2010":1.87,"Mar2010":1.87},
{"t":"2007-09-01T22:00","Base":1.83,"Plan1":1.83,"Plan2":1.83,"Feb2010":1.83,"Mar2010":1.83},
{"t":"2007-09-01T23:00","Base":1.75,"Plan1":1.75,"Plan2":1.72,"Feb2010":1.75,"Mar2010":1.75},
{"t":"2007-09-02T00:00","Base":1.45,"Plan1":1.45,"Plan2":1.45,"Feb2010":1.45,"Mar2010":1.45},
{"t":"2007-09-02T01:00","Base":1.15,"Plan1":1.15,"Plan2":1.15,"Feb2010":1.15,"Mar2010":1.15},
{"t":"2007-09-02T02:00","Base":0.98,"Plan1":0.98,"Plan2":0.98,"Feb2010":0.98,"Mar2010":0.98},
{"t":"2007-09-02T03:00","Base":0.80,"Plan1":0.80,"Plan2":0.80,"Feb2010":0.80,"Mar2010":0.80},
{"t":"2007-09-02T04:00","Base":0.68,"Plan1":0.68,"Plan2":0.68,"Feb2010":0.68,"Mar2010":0.68},
{"t":"2007-09-02T05:00","Base":0.55,"Plan1":0.55,"Plan2":0.55,"Feb2010":0.55,"Mar2010":0.55},
{"t":"2007-09-02T06:00","Base":0.40,"Plan1":0.40,"Plan2":0.40,"Feb2010":0.40,"Mar2010":0.40},
{"t":"2007-09-02T07:00","Base":0.28,"Plan1":0.28,"Plan2":0.28,"Feb2010":0.28,"Mar2010":0.28},
{"t":"2007-09-02T08:00","Base":0.15,"Plan1":0.15,"Plan2":0.15,"Feb2010":0.15,"Mar2010":0.15},
{"t":"2007-09-02T09:00","Base":0.05,"Plan1":0.05,"Plan2":0.05,"Feb2010":0.05,"Mar2010":0.05},
{"t":"2007-09-02T10:00","Base":-0.05,"Plan1":-0.05,"Plan2":-0.06,"Feb2010":-0.05,"Mar2010":-0.05},
{"t":"2007-09-02T11:00","Base":-0.09,"Plan1":-0.09,"Plan2":-0.11,"Feb2010":-0.09,"Mar2010":-0.09},
{"t":"2007-09-02T12:00","Base":0.00,"Plan1":0.00,"Plan2":0.00,"Feb2010":0.00,"Mar2010":0.00},
{"t":"2007-09-02T13:00","Base":0.30,"Plan1":0.30,"Plan2":0.30,"Feb2010":0.30,"Mar2010":0.30},
{"t":"2007-09-02T14:00","Base":0.50,"Plan1":0.50,"Plan2":0.50,"Feb2010":0.50,"Mar2010":0.50},
{"t":"2007-09-02T15:00","Base":0.85,"Plan1":0.85,"Plan2":0.85,"Feb2010":0.85,"Mar2010":0.85},
{"t":"2007-09-02T16:00","Base":1.05,"Plan1":1.05,"Plan2":1.05,"Feb2010":1.05,"Mar2010":1.05},
{"t":"2007-09-02T17:00","Base":1.25,"Plan1":1.25,"Plan2":1.25,"Feb2010":1.25,"Mar2010":1.25},
{"t":"2007-09-02T18:00","Base":1.38,"Plan1":1.38,"Plan2":1.38,"Feb2010":1.38,"Mar2010":1.38},
{"t":"2007-09-02T19:00","Base":1.50,"Plan1":1.50,"Plan2":1.50,"Feb2010":1.50,"Mar2010":1.50},
{"t":"2007-09-02T20:00","Base":1.70,"Plan1":1.70,"Plan2":1.70,"Feb2010":1.70,"Mar2010":1.70},
{"t":"2007-09-02T21:00","Base":1.80,"Plan1":1.80,"Plan2":1.80,"Feb2010":1.80,"Mar2010":1.80},
{"t":"2007-09-02T22:00","Base":1.90,"Plan1":1.90,"Plan2":1.92,"Feb2010":1.90,"Mar2010":1.90},
{"t":"2007-09-02T23:00","Base":1.94,"Plan1":1.94,"Plan2":1.98,"Feb2010":1.94,"Mar2010":1.94},
{"t":"2007-09-03T00:00","Base":1.85,"Plan1":1.85,"Plan2":1.88,"Feb2010":1.85,"Mar2010":1.85},
{"t":"2007-09-03T01:00","Base":1.50,"Plan1":1.50,"Plan2":1.50,"Feb2010":1.50,"Mar2010":1.50},
{"t":"2007-09-03T02:00","Base":1.20,"Plan1":1.20,"Plan2":1.20,"Feb2010":1.20,"Mar2010":1.20},
{"t":"2007-09-03T03:00","Base":1.05,"Plan1":1.05,"Plan2":1.05,"Feb2010":1.05,"Mar2010":1.05},
{"t":"2007-09-03T04:00","Base":0.85,"Plan1":0.85,"Plan2":0.85,"Feb2010":0.85,"Mar2010":0.85},
{"t":"2007-09-03T05:00","Base":0.70,"Plan1":0.70,"Plan2":0.70,"Feb2010":0.70,"Mar2010":0.70},
{"t":"2007-09-03T06:00","Base":0.58,"Plan1":0.58,"Plan2":0.58,"Feb2010":0.58,"Mar2010":0.58},
{"t":"2007-09-03T07:00","Base":0.45,"Plan1":0.45,"Plan2":0.45,"Feb2010":0.45,"Mar2010":0.45},
{"t":"2007-09-03T08:00","Base":0.38,"Plan1":0.38,"Plan2":0.38,"Feb2010":0.38,"Mar2010":0.36},
{"t":"2007-09-03T09:00","Base":0.27,"Plan1":0.27,"Plan2":0.27,"Feb2010":0.27,"Mar2010":0.24},
{"t":"2007-09-03T10:00","Base":0.17,"Plan1":0.17,"Plan2":0.17,"Feb2010":0.17,"Mar2010":0.13},
{"t":"2007-09-03T11:00","Base":0.13,"Plan1":0.13,"Plan2":0.13,"Feb2010":0.13,"Mar2010":0.08},
{"t":"2007-09-03T12:00","Base":0.12,"Plan1":0.12,"Plan2":0.12,"Feb2010":0.12,"Mar2010":0.05},
{"t":"2007-09-03T13:00","Base":0.15,"Plan1":0.15,"Plan2":0.15,"Feb2010":0.15,"Mar2010":0.08},
{"t":"2007-09-03T14:00","Base":0.40,"Plan1":0.40,"Plan2":0.40,"Feb2010":0.40,"Mar2010":0.30},
{"t":"2007-09-03T15:00","Base":0.70,"Plan1":0.70,"Plan2":0.70,"Feb2010":0.70,"Mar2010":0.65},
{"t":"2007-09-03T16:00","Base":0.95,"Plan1":0.95,"Plan2":0.95,"Feb2010":0.95,"Mar2010":0.95},
{"t":"2007-09-03T17:00","Base":1.15,"Plan1":1.15,"Plan2":1.15,"Feb2010":1.15,"Mar2010":1.15},
{"t":"2007-09-03T18:00","Base":1.30,"Plan1":1.30,"Plan2":1.30,"Feb2010":1.30,"Mar2010":1.30},
{"t":"2007-09-03T19:00","Base":1.42,"Plan1":1.42,"Plan2":1.42,"Feb2010":1.42,"Mar2010":1.42},
{"t":"2007-09-03T20:00","Base":1.55,"Plan1":1.55,"Plan2":1.55,"Feb2010":1.55,"Mar2010":1.55},
{"t":"2007-09-03T21:00","Base":1.72,"Plan1":1.72,"Plan2":1.72,"Feb2010":1.72,"Mar2010":1.72},
{"t":"2007-09-03T22:00","Base":1.85,"Plan1":1.85,"Plan2":1.85,"Feb2010":1.85,"Mar2010":1.85},
{"t":"2007-09-03T23:00","Base":2.00,"Plan1":2.00,"Plan2":2.00,"Feb2010":2.00,"Mar2010":2.00},
{"t":"2007-09-04T00:00","Base":2.10,"Plan1":2.06,"Plan2":2.07,"Feb2010":2.06,"Mar2010":2.06},
{"t":"2007-09-04T01:00","Base":2.04,"Plan1":2.02,"Plan2":2.02,"Feb2010":2.02,"Mar2010":2.02},
{"t":"2007-09-04T02:00","Base":1.65,"Plan1":1.65,"Plan2":1.65,"Feb2010":1.65,"Mar2010":1.65},
{"t":"2007-09-04T03:00","Base":1.45,"Plan1":1.45,"Plan2":1.45,"Feb2010":1.45,"Mar2010":1.45},
{"t":"2007-09-04T04:00","Base":1.15,"Plan1":1.15,"Plan2":1.15,"Feb2010":1.15,"Mar2010":1.15},
{"t":"2007-09-04T05:00","Base":0.98,"Plan1":0.98,"Plan2":0.98,"Feb2010":0.98,"Mar2010":0.98},
{"t":"2007-09-04T06:00","Base":0.88,"Plan1":0.88,"Plan2":0.88,"Feb2010":0.88,"Mar2010":0.88},
{"t":"2007-09-04T07:00","Base":0.70,"Plan1":0.70,"Plan2":0.70,"Feb2010":0.70,"Mar2010":0.70},
{"t":"2007-09-04T08:00","Base":0.57,"Plan1":0.57,"Plan2":0.57,"Feb2010":0.57,"Mar2010":0.57},
{"t":"2007-09-04T09:00","Base":0.45,"Plan1":0.45,"Plan2":0.45,"Feb2010":0.45,"Mar2010":0.45},
{"t":"2007-09-04T10:00","Base":0.35,"Plan1":0.35,"Plan2":0.35,"Feb2010":0.35,"Mar2010":0.35},
{"t":"2007-09-04T11:00","Base":0.27,"Plan1":0.26,"Plan2":0.26,"Feb2010":0.26,"Mar2010":0.24},
{"t":"2007-09-04T12:00","Base":0.19,"Plan1":0.17,"Plan2":0.16,"Feb2010":0.17,"Mar2010":0.15}
]},
"transform":[{"fold":["Base","Plan1","Plan2","Feb2010","Mar2010"],"as":["series","elev"]}],
"mark":{"type":"line","strokeWidth":2,"strokeJoin":"round"},
"encoding":{
"x":{"field":"t","type":"temporal",
"scale":{"domain":[{"year":2007,"month":8,"date":23},{"year":2007,"month":9,"date":4,"hours":12}]},
"axis":{"orient":"bottom","offset":-74,"values":[{"year":2007,"month":8,"date":23},{"year":2007,"month":8,"date":25},{"year":2007,"month":8,"date":27},{"year":2007,"month":8,"date":29},{"year":2007,"month":8,"date":31},{"year":2007,"month":9,"date":2},{"year":2007,"month":9,"date":4}],
"format":"%-m/%-d/%Y","labelFont":"Liberation Sans","labelFontSize":21,"labelColor":"black","labelPadding":15,"labelOverlap":false,"labelFlush":false,
"tickSize":7,"tickColor":"#999999","domainColor":"#999999","domainWidth":1,"grid":false,
"title":"Date","titleFont":"Liberation Sans","titleFontSize":22,"titleFontWeight":"bold","titleColor":"black","titleX":414,"titleY":113,"titleBaseline":"middle","titleAlign":"center"}},
"y":{"field":"elev","type":"quantitative",
"scale":{"domain":[-0.5,3],"nice":false,"zero":false},
"axis":{"values":[-0.5,0,0.5,1,1.5,2,2.5,3],"labelExpr":"toString(datum.value)","labelFont":"Liberation Sans","labelFontSize":21,"labelColor":"black","labelPadding":8,
"tickSize":6,"tickColor":"#808080","domainColor":"#808080","domainWidth":1.5,"grid":true,"gridColor":"#d9d9d9","gridWidth":1,
"title":"Elevation (ft)","titleFont":"Liberation Sans","titleFontSize":22,"titleFontWeight":"bold","titleColor":"black","titleX":-78,"titleY":260,"titleAngle":-90,"titleBaseline":"middle","titleAlign":"center"}},
"color":{"field":"series","type":"nominal",
"scale":{"domain":["Base","Plan1","Plan2","Feb2010","Mar2010"],"range":["#2b2b70","#c870b4","#f0a830","#2e8b74","#5878bc"]},
"legend":{"orient":"none","legendX":114,"legendY":598,"direction":"horizontal","title":null,"labelFont":"Liberation Sans","labelFontSize":21,"labelColor":"black","symbolType":"M-2,0H2","symbolSize":484,"symbolStrokeWidth":2,"symbolOffset":14,"labelOffset":16,"columnPadding":6,"padding":5,"strokeColor":"#bbbbbb","fillColor":"white"}}
},
"config":{"view":{"stroke":"#999999","strokeWidth":1.5},"font":"Liberation Sans"}
}
